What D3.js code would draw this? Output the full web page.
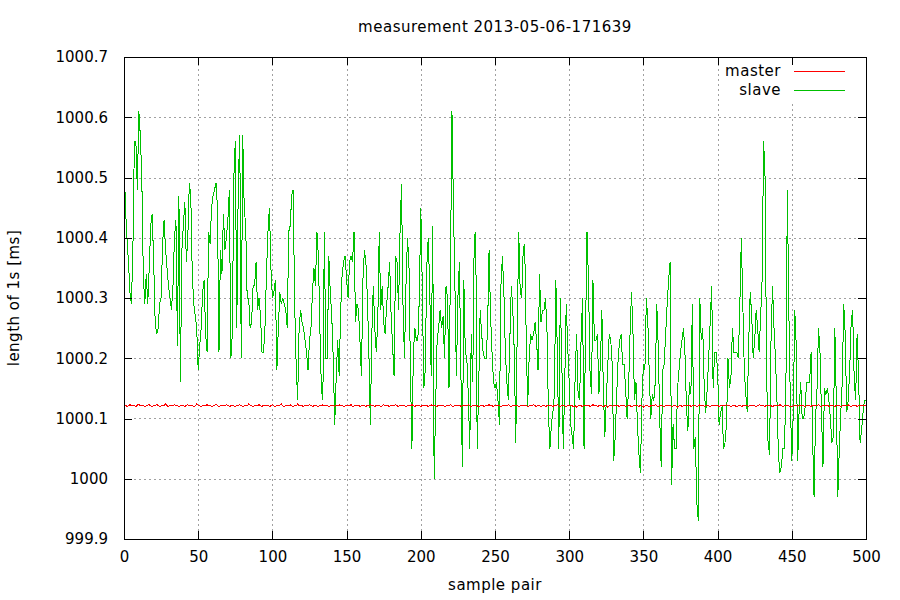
<!DOCTYPE html>
<html>
<head>
<meta charset="utf-8">
<script src="https://cdn.jsdelivr.net/npm/d3@7"></script>
<style>
  body { margin: 0; background: #fff; }
  text { font-family: "DejaVu Sans", sans-serif; fill: #000; }
  .label { letter-spacing: 0.5px; }
</style>
</head>
<body>
<svg id="chart" width="900" height="600"></svg>
<script>
const chartTitle = 'measurement 2013-05-06-171639';
const xLabel = 'sample pair';
const yLabel = 'length of 1s [ms]';
const seriesNames = ['master', 'slave'];
const xTicks = [0, 50, 100, 150, 200, 250, 300, 350, 400, 450, 500];
const yTicks = [999.9, 1000, 1000.1, 1000.2, 1000.3, 1000.4, 1000.5, 1000.6, 1000.7];

// length of one second per sample pair
const masterValues = [
    1000.121,1000.122,1000.120,1000.121,1000.123,1000.121,1000.122,1000.121,1000.120,1000.122,1000.124,1000.121,1000.122,1000.121,1000.120,1000.121,1000.122,1000.123,1000.121,1000.120,
    1000.122,1000.121,1000.123,1000.122,1000.120,1000.121,1000.121,1000.122,1000.124,1000.121,1000.120,1000.122,1000.121,1000.121,1000.123,1000.122,1000.121,1000.120,1000.121,1000.122,
    1000.121,1000.120,1000.122,1000.123,1000.121,1000.121,1000.122,1000.120,1000.121,1000.124,1000.122,1000.121,1000.120,1000.121,1000.122,1000.121,1000.123,1000.121,1000.122,1000.120,
    1000.121,1000.122,1000.124,1000.121,1000.120,1000.121,1000.122,1000.121,1000.121,1000.123,1000.122,1000.120,1000.121,1000.122,1000.121,1000.120,1000.122,1000.121,1000.123,1000.121,
    1000.120,1000.121,1000.122,1000.121,1000.124,1000.122,1000.121,1000.120,1000.121,1000.122,1000.121,1000.123,1000.121,1000.120,1000.122,1000.121,1000.121,1000.122,1000.120,1000.121,
    1000.123,1000.121,1000.120,1000.122,1000.121,1000.122,1000.124,1000.121,1000.120,1000.121,1000.122,1000.121,1000.123,1000.121,1000.120,1000.122,1000.121,1000.124,1000.121,1000.122,
    1000.121,1000.120,1000.122,1000.121,1000.121,1000.123,1000.122,1000.120,1000.121,1000.122,1000.121,1000.120,1000.122,1000.121,1000.123,1000.121,1000.121,1000.122,1000.120,1000.121,
    1000.122,1000.121,1000.120,1000.122,1000.121,1000.123,1000.121,1000.122,1000.120,1000.121,1000.122,1000.121,1000.121,1000.123,1000.120,1000.121,1000.122,1000.121,1000.122,1000.120,
    1000.121,1000.122,1000.121,1000.120,1000.122,1000.121,1000.123,1000.121,1000.121,1000.120,1000.122,1000.121,1000.122,1000.120,1000.121,1000.123,1000.121,1000.122,1000.121,1000.120,
    1000.122,1000.121,1000.121,1000.123,1000.121,1000.120,1000.122,1000.121,1000.122,1000.121,1000.120,1000.121,1000.122,1000.121,1000.123,1000.121,1000.120,1000.122,1000.121,1000.121,
    1000.120,1000.122,1000.121,1000.121,1000.122,1000.120,1000.121,1000.123,1000.121,1000.122,1000.121,1000.120,1000.122,1000.121,1000.121,1000.122,1000.120,1000.121,1000.122,1000.121,
    1000.123,1000.121,1000.120,1000.122,1000.121,1000.121,1000.122,1000.120,1000.121,1000.122,1000.121,1000.121,1000.123,1000.121,1000.120,1000.122,1000.121,1000.122,1000.121,1000.120,
    1000.121,1000.122,1000.121,1000.120,1000.122,1000.121,1000.123,1000.121,1000.121,1000.120,1000.122,1000.121,1000.122,1000.121,1000.120,1000.121,1000.122,1000.121,1000.121,1000.123,
    1000.121,1000.120,1000.122,1000.121,1000.122,1000.121,1000.120,1000.121,1000.122,1000.121,1000.121,1000.122,1000.120,1000.121,1000.122,1000.121,1000.123,1000.121,1000.120,1000.122,
    1000.121,1000.119,1000.121,1000.122,1000.120,1000.121,1000.122,1000.121,1000.121,1000.120,1000.122,1000.121,1000.123,1000.121,1000.120,1000.121,1000.122,1000.121,1000.120,1000.122,
    1000.121,1000.122,1000.121,1000.120,1000.121,1000.119,1000.121,1000.122,1000.121,1000.120,1000.122,1000.121,1000.121,1000.122,1000.120,1000.121,1000.123,1000.121,1000.122,1000.120,
    1000.121,1000.122,1000.121,1000.120,1000.121,1000.122,1000.119,1000.121,1000.122,1000.120,1000.121,1000.122,1000.121,1000.121,1000.120,1000.122,1000.121,1000.122,1000.120,1000.121,
    1000.122,1000.121,1000.120,1000.121,1000.122,1000.121,1000.121,1000.120,1000.122,1000.121,1000.119,1000.121,1000.122,1000.121,1000.120,1000.121,1000.122,1000.121,1000.123,1000.121,
    1000.120,1000.121,1000.122,1000.121,1000.120,1000.122,1000.121,1000.121,1000.122,1000.120,1000.121,1000.122,1000.121,1000.119,1000.121,1000.122,1000.120,1000.121,1000.122,1000.121,
    1000.121,1000.122,1000.120,1000.121,1000.122,1000.121,1000.120,1000.121,1000.123,1000.121,1000.122,1000.120,1000.121,1000.122,1000.121,1000.120,1000.121,1000.122,1000.121,1000.121,
    1000.122,1000.120,1000.121,1000.122,1000.121,1000.121,1000.123,1000.122,1000.121,1000.120,1000.121,1000.122,1000.121,1000.119,1000.121,1000.122,1000.120,1000.121,1000.122,1000.121,
    1000.121,1000.120,1000.122,1000.121,1000.122,1000.121,1000.120,1000.121,1000.123,1000.122,1000.121,1000.121,1000.120,1000.122,1000.121,1000.122,1000.121,1000.120,1000.121,1000.122,
    1000.122,1000.121,1000.123,1000.121,1000.120,1000.121,1000.122,1000.121,1000.121,1000.120,1000.119,1000.121,1000.122,1000.121,1000.120,1000.122,1000.121,1000.122,1000.121,1000.120,
    1000.121,1000.122,1000.121,1000.120,1000.122,1000.121,1000.121,1000.122,1000.123,1000.121,1000.120,1000.122,1000.121,1000.121,1000.122,1000.120,1000.121,1000.122,1000.121,1000.120,
    1000.122,1000.121,1000.122,1000.120,1000.121,1000.122,1000.121,1000.121,1000.123,1000.121,1000.120,1000.122,1000.121,1000.122,1000.120,1000.121,1000.122,1000.121,1000.121,1000.122,
    1000.121
];

const slaveValues = [
    1000.53,1000.45,1000.40,1000.36,1000.31,1000.29,1000.38,1000.56,1000.56,1000.48,
    1000.61,1000.57,1000.50,1000.34,1000.29,1000.34,1000.29,1000.35,1000.42,1000.44,
    1000.36,1000.26,1000.24,1000.25,1000.29,1000.30,1000.39,1000.43,1000.38,1000.35,
    1000.32,1000.30,1000.28,1000.32,1000.40,1000.43,1000.22,1000.47,1000.16,1000.38,
    1000.42,1000.46,1000.36,1000.40,1000.49,1000.47,1000.34,1000.29,1000.27,1000.25,
    1000.18,1000.22,1000.25,1000.31,1000.33,1000.24,1000.21,1000.41,1000.39,1000.45,
    1000.47,1000.48,1000.49,1000.45,1000.21,1000.38,1000.34,1000.44,1000.38,1000.40,
    1000.43,1000.48,1000.20,1000.24,1000.50,1000.56,1000.25,1000.49,1000.57,1000.20,
    1000.57,1000.45,1000.42,1000.30,1000.30,1000.25,1000.26,1000.32,1000.32,1000.36,
    1000.28,1000.30,1000.27,1000.21,1000.21,1000.25,1000.34,1000.41,1000.45,1000.35,
    1000.30,1000.31,1000.33,1000.18,1000.25,1000.31,1000.29,1000.30,1000.29,1000.28,
    1000.25,1000.41,1000.42,1000.47,1000.48,1000.29,1000.19,1000.13,1000.25,1000.28,
    1000.26,1000.25,1000.23,1000.21,1000.18,1000.23,1000.25,1000.31,1000.35,1000.32,
    1000.41,1000.37,1000.25,1000.15,1000.13,1000.41,1000.20,1000.20,1000.37,1000.31,
    1000.27,1000.20,1000.09,1000.17,1000.23,1000.17,1000.28,1000.34,1000.36,1000.37,
    1000.33,1000.30,1000.36,1000.37,1000.36,1000.41,1000.26,1000.29,1000.28,1000.23,
    1000.17,1000.33,1000.38,1000.36,1000.30,1000.21,1000.09,1000.24,1000.32,1000.25,
    1000.21,1000.26,1000.41,1000.28,1000.32,1000.26,1000.24,1000.29,1000.32,1000.36,
    1000.27,1000.22,1000.17,1000.37,1000.36,1000.28,1000.41,1000.49,1000.29,1000.20,
    1000.32,1000.40,1000.36,1000.18,1000.05,1000.21,1000.25,1000.23,1000.23,1000.30,
    1000.45,1000.32,1000.15,1000.18,1000.35,1000.40,1000.32,1000.17,1000.42,1000.00,
    1000.12,1000.23,1000.25,1000.28,1000.25,1000.27,1000.20,1000.32,1000.30,1000.15,
    1000.35,1000.61,1000.45,1000.32,1000.17,1000.30,1000.36,1000.18,1000.02,1000.33,
    1000.21,1000.20,1000.14,1000.05,1000.24,1000.16,1000.40,1000.41,1000.05,1000.15,
    1000.28,1000.24,1000.21,1000.20,1000.20,1000.25,1000.38,1000.27,1000.21,1000.16,
    1000.15,1000.16,1000.13,1000.09,1000.32,1000.37,1000.31,1000.21,1000.16,1000.13,
    1000.23,1000.32,1000.28,1000.21,1000.06,1000.25,1000.41,1000.31,1000.30,1000.38,
    1000.39,1000.24,1000.12,1000.20,1000.24,1000.23,1000.24,1000.26,1000.23,1000.18,
    1000.34,1000.26,1000.28,1000.28,1000.30,1000.25,1000.11,1000.05,1000.09,1000.11,
    1000.14,1000.33,1000.21,1000.05,1000.30,1000.20,1000.05,1000.16,1000.29,1000.22,
    1000.16,1000.09,1000.07,1000.05,1000.17,1000.24,1000.14,1000.13,1000.23,1000.30,
    1000.05,1000.24,1000.41,1000.33,1000.18,1000.14,1000.33,1000.23,1000.23,1000.24,
    1000.14,1000.19,1000.28,1000.15,1000.07,1000.13,1000.19,1000.24,1000.23,1000.19,
    1000.03,1000.07,1000.14,1000.20,1000.23,1000.24,1000.19,1000.19,1000.15,1000.10,
    1000.15,1000.24,1000.31,1000.24,1000.13,1000.16,1000.09,1000.04,1000.01,1000.13,
    1000.19,1000.18,1000.30,1000.26,1000.17,1000.10,1000.14,1000.13,1000.16,1000.29,
    1000.22,1000.10,1000.02,1000.18,1000.19,1000.24,1000.29,1000.33,1000.36,999.99,
    1000.09,1000.05,1000.05,1000.15,1000.18,1000.21,1000.23,1000.25,1000.21,1000.12,
    1000.08,1000.16,1000.14,1000.29,1000.05,1000.07,999.96,999.93,1000.30,1000.23,
    1000.25,1000.15,1000.11,1000.15,1000.20,1000.26,1000.32,1000.15,1000.21,1000.21,
    1000.18,1000.09,1000.11,1000.12,1000.05,1000.06,1000.09,1000.20,1000.15,1000.17,
    1000.25,1000.21,1000.21,1000.21,1000.20,1000.29,1000.40,1000.29,1000.18,1000.14,
    1000.11,1000.23,1000.31,1000.27,1000.20,1000.23,1000.28,1000.25,1000.21,1000.27,
    1000.33,1000.56,1000.50,1000.18,1000.06,1000.04,1000.23,1000.32,1000.25,1000.20,
    1000.13,1000.04,1000.01,1000.02,1000.05,1000.05,1000.14,1000.48,1000.28,1000.13,
    1000.03,1000.11,1000.28,1000.22,1000.03,1000.12,1000.16,1000.10,1000.10,1000.12,
    1000.16,1000.16,1000.16,1000.21,1000.07,999.97,1000.10,1000.15,1000.25,1000.21,
    1000.11,1000.02,1000.15,1000.14,1000.15,1000.13,1000.10,1000.06,1000.07,1000.25,
    1000.13,999.97,1000.05,1000.11,1000.16,1000.29,1000.24,1000.11,1000.13,1000.18,
    1000.26,1000.28,1000.17,1000.13,1000.24,1000.17,1000.06,1000.08,1000.11,1000.13,
    1000.13
];

const seriesColors = ['#ff0000', '#00c000'];

const plotLeft = 124, plotRight = 866, plotTop = 57, plotBottom = 539;
const tickLen = 8;

const svg = d3.select('#chart');

const x = d3.scaleLinear().domain([0, 500]).range([plotLeft, plotRight]);
const y = d3.scaleLinear().domain([999.9, 1000.7]).range([plotBottom, plotTop]);

// dotted grid, only inside the frame
const grid = svg.append('g')
    .attr('stroke', '#a0a0a0')
    .attr('stroke-width', 1)
    .attr('stroke-dasharray', '2,3')
    .attr('shape-rendering', 'crispEdges');

grid.selectAll('.gx')
    .data(xTicks.slice(1, -1))
    .join('line')
    .attr('x1', d => Math.round(x(d)) + 0.5)
    .attr('x2', d => Math.round(x(d)) + 0.5)
    .attr('y1', plotBottom - tickLen)
    .attr('y2', plotTop + tickLen);

grid.selectAll('.gy')
    .data(yTicks.slice(1, -1))
    .join('line')
    .attr('y1', d => Math.round(y(d)) + 0.5)
    .attr('y2', d => Math.round(y(d)) + 0.5)
    .attr('x1', plotLeft + tickLen + 2)
    .attr('x2', plotRight - tickLen);

// blank area behind the key, like gnuplot does
svg.append('rect')
    .attr('x', 722)
    .attr('y', 62)
    .attr('width', 136)
    .attr('height', 40)
    .attr('fill', '#fff');

// data
const line = d3.line()
    .x((d, i) => x(i))
    .y(d => y(d));

svg.append('path')
    .datum(slaveValues)
    .attr('d', line)
    .attr('fill', 'none')
    .attr('stroke', seriesColors[1])
    .attr('stroke-width', 1)
    .attr('shape-rendering', 'crispEdges');

svg.append('path')
    .datum(masterValues)
    .attr('d', line)
    .attr('fill', 'none')
    .attr('stroke', seriesColors[0])
    .attr('stroke-width', 1)
    .attr('shape-rendering', 'crispEdges');

// axes with inward ticks, mirrored on the opposite side
const fmt = d3.format('~g');

const yAxis = svg.append('g')
    .attr('transform', `translate(${plotLeft},0)`)
    .call(d3.axisLeft(y).tickValues(yTicks).tickFormat(fmt)
        .tickSizeInner(-tickLen).tickSizeOuter(0).tickPadding(16));

const yAxisR = svg.append('g')
    .attr('transform', `translate(${plotRight},0)`)
    .call(d3.axisRight(y).tickValues(yTicks).tickFormat('')
        .tickSizeInner(-tickLen).tickSizeOuter(0));

const xAxis = svg.append('g')
    .attr('transform', `translate(0,${plotBottom})`)
    .call(d3.axisBottom(x).tickValues(xTicks).tickFormat(fmt)
        .tickSizeInner(-tickLen).tickSizeOuter(0).tickPadding(12));

const xAxisT = svg.append('g')
    .attr('transform', `translate(0,${plotTop})`)
    .call(d3.axisTop(x).tickValues(xTicks).tickFormat('')
        .tickSizeInner(-tickLen).tickSizeOuter(0));

[yAxis, yAxisR, xAxis, xAxisT].forEach(g => {
    g.select('.domain').remove();
    g.selectAll('line').attr('stroke', '#000').attr('shape-rendering', 'crispEdges');
    g.selectAll('text')
        .attr('fill', '#000')
        .style('font-family', '"DejaVu Sans", sans-serif')
        .style('font-size', '15px');
});

svg.append('rect')
    .attr('x', plotLeft + 0.5)
    .attr('y', plotTop + 0.5)
    .attr('width', plotRight - plotLeft)
    .attr('height', plotBottom - plotTop)
    .attr('fill', 'none')
    .attr('stroke', '#000')
    .attr('shape-rendering', 'crispEdges');

// key
const key = svg.append('g');
seriesNames.forEach((name, i) => {
    const ky = 71 + i * 19;
    key.append('text')
        .attr('class', 'label')
        .attr('x', 781)
        .attr('y', ky)
        .attr('dy', '0.35em')
        .attr('text-anchor', 'end')
        .style('font-size', '15px')
        .text(name);
    key.append('line')
        .attr('x1', 794)
        .attr('x2', 845)
        .attr('y1', ky + 0.5)
        .attr('y2', ky + 0.5)
        .attr('stroke', seriesColors[i])
        .attr('shape-rendering', 'crispEdges');
});

// titles
svg.append('text')
    .attr('class', 'label')
    .attr('x', (plotLeft + plotRight) / 2)
    .attr('y', 27)
    .attr('dy', '0.35em')
    .attr('text-anchor', 'middle')
    .style('font-size', '15px')
    .text(chartTitle);

svg.append('text')
    .attr('class', 'label')
    .attr('x', (plotLeft + plotRight) / 2)
    .attr('y', 585)
    .attr('dy', '0.35em')
    .attr('text-anchor', 'middle')
    .style('font-size', '15px')
    .text(xLabel);

svg.append('text')
    .attr('class', 'label')
    .attr('transform', `translate(14,${(plotTop + plotBottom) / 2}) rotate(-90)`)
    .attr('dy', '0.35em')
    .attr('text-anchor', 'middle')
    .style('font-size', '15px')
    .text(yLabel);
</script>
</body>
</html>
